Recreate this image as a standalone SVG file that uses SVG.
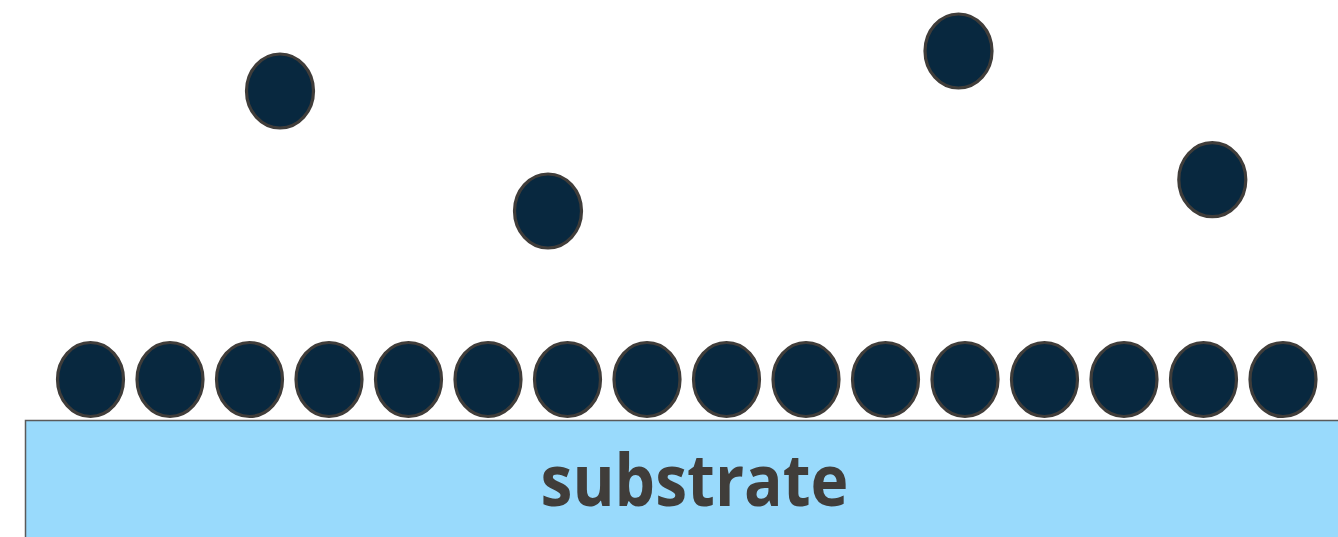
<svg xmlns="http://www.w3.org/2000/svg" width="1338" height="537" viewBox="0 0 1338 537">
<style>
.p{fill:#08283F;stroke:#403D3A;stroke-width:3.2}
.sub{fill:#99DAFC;stroke:#5A5A5A;stroke-width:1.5}
.lbl{font-family:"Open Sans","Liberation Sans",sans-serif;font-weight:bold;font-size:71px;fill:#403D3A}
</style>
<rect width="1338" height="537" fill="#FFFFFF"/>
<g id="substrate">
<rect class="sub" x="25.5" y="420.5" width="1320" height="130"/>
<text class="lbl" x="694.5" y="505.5" text-anchor="middle" textLength="308" lengthAdjust="spacingAndGlyphs">substrate</text>
</g>
<g id="floating">
<ellipse class="p" cx="280" cy="91" rx="33.5" ry="37"/>
<ellipse class="p" cx="548" cy="211" rx="33.5" ry="37"/>
<ellipse class="p" cx="958.5" cy="51" rx="33.5" ry="37"/>
<ellipse class="p" cx="1212.3" cy="179.7" rx="33.5" ry="37"/>
</g>
<g id="layer">
<ellipse class="p" cx="90.5" cy="379.5" rx="33" ry="37"/>
<ellipse class="p" cx="170" cy="379.5" rx="33" ry="37"/>
<ellipse class="p" cx="249.5" cy="379.5" rx="33" ry="37"/>
<ellipse class="p" cx="329" cy="379.5" rx="33" ry="37"/>
<ellipse class="p" cx="408.5" cy="379.5" rx="33" ry="37"/>
<ellipse class="p" cx="488" cy="379.5" rx="33" ry="37"/>
<ellipse class="p" cx="567.5" cy="379.5" rx="33" ry="37"/>
<ellipse class="p" cx="647" cy="379.5" rx="33" ry="37"/>
<ellipse class="p" cx="726.5" cy="379.5" rx="33" ry="37"/>
<ellipse class="p" cx="806" cy="379.5" rx="33" ry="37"/>
<ellipse class="p" cx="885.5" cy="379.5" rx="33" ry="37"/>
<ellipse class="p" cx="965" cy="379.5" rx="33" ry="37"/>
<ellipse class="p" cx="1044.5" cy="379.5" rx="33" ry="37"/>
<ellipse class="p" cx="1124" cy="379.5" rx="33" ry="37"/>
<ellipse class="p" cx="1203.5" cy="379.5" rx="33" ry="37"/>
<ellipse class="p" cx="1283" cy="379.5" rx="33" ry="37"/>
</g>
</svg>
